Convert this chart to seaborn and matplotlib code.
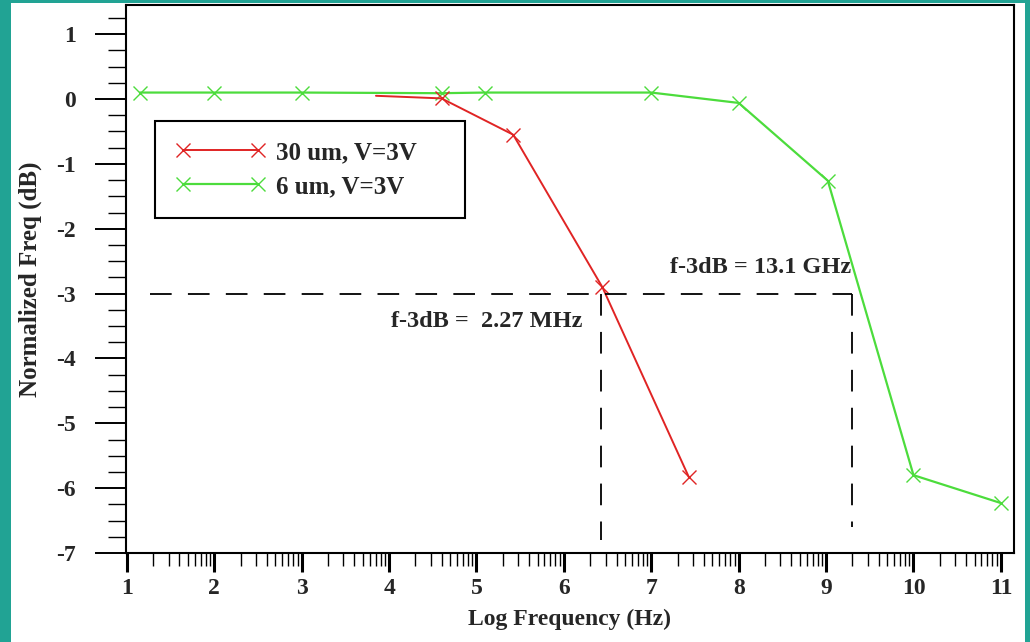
"""
Frequency response of the 30 um and 6 um devices at V=3V, with the -3 dB points marked.
"""

import matplotlib.pyplot as plt
import numpy as np
import pandas as pd
import seaborn as sns
from matplotlib.lines import Line2D
from matplotlib.patches import Rectangle
from matplotlib.ticker import FixedLocator, MultipleLocator

# data
log_freq_30um = [3.85, 4.6, 5.42, 6.44, 7.43]
resp_30um = [0.05, 0.01, -0.55, -2.9, -5.83]

log_freq_6um = [1.15, 2.0, 3.0, 4.6, 5.1, 7.0, 8.0, 9.02, 10.0, 11.0]
resp_6um = [0.1, 0.1, 0.1, 0.09, 0.1, 0.1, -0.06, -1.26, -5.8, -6.23]

labels = ["30 um, V=3V", "6 um, V=3V"]
f3db_level = -3
f3db_30um_x = 6.43
f3db_6um_x = 9.3
f3db_30um_text = "f-3dB =  2.27 MHz"
f3db_6um_text = "f-3dB = 13.1 GHz"

RED = "#e02424"
GREEN = "#4cdc3c"
TEAL = "#21a394"

df = pd.concat([
    pd.DataFrame({"x": log_freq_30um, "y": resp_30um, "series": labels[0]}),
    pd.DataFrame({"x": log_freq_6um, "y": resp_6um, "series": labels[1]}),
])

sns.set_theme(style="ticks")
plt.rcParams["font.family"] = ["Liberation Serif", "DejaVu Serif"]
plt.rcParams["font.weight"] = "bold"
plt.rcParams["axes.unicode_minus"] = False

fig = plt.figure(figsize=(10.3, 6.42), dpi=100, facecolor=TEAL)
fig.add_artist(Rectangle((11 / 1030, 0), (1025 - 11) / 1030, 639 / 642,
                         transform=fig.transFigure, facecolor="white",
                         edgecolor="none", zorder=-5))
ax = fig.add_axes([126 / 1030, 1 - 553 / 642, (1014 - 126) / 1030, (553 - 5) / 642])

mk = dict(marker="x", markersize=10, markeredgewidth=1.0)
sns.lineplot(data=df[df.series == labels[0]], x="x", y="y", color=RED,
             markeredgecolor=RED, linewidth=1.4, markevery=[1, 2, 3, 4],
             sort=False, estimator=None, ax=ax, legend=False, zorder=2, **mk)
sns.lineplot(data=df[df.series == labels[1]], x="x", y="y", color=GREEN,
             markeredgecolor=GREEN, linewidth=1.6, sort=False, estimator=None,
             ax=ax, legend=False, zorder=1, **mk)

# -3 dB guide lines
dash = dict(color="black", linewidth=1.3, linestyle=(0, (12, 9)), zorder=3)
ax.plot([1.26, f3db_6um_x], [f3db_level, f3db_level], **dash)
ax.plot([f3db_30um_x, f3db_30um_x], [f3db_level, -6.8], **dash)
ax.plot([f3db_6um_x, f3db_6um_x], [f3db_level, -6.6], **dash)

ax.text(4.02, -3.43, f3db_30um_text, fontsize=17.5, fontweight="bold",
        va="center", ha="left")
ax.text(7.21, -2.6, f3db_6um_text, fontsize=17.5, fontweight="bold",
        va="center", ha="left")

ax.set_xlim(0.99, 11.15)
ax.set_ylim(-7, 1.45)

major_x = list(range(1, 12))
minor_x = [k + np.log10(m) for k in range(1, 12) for m in range(2, 10)]
ax.xaxis.set_major_locator(FixedLocator(major_x))
ax.xaxis.set_minor_locator(FixedLocator([v for v in minor_x if v < 11.15]))
ax.yaxis.set_major_locator(FixedLocator(list(range(-7, 2))))
ax.yaxis.set_minor_locator(MultipleLocator(0.25))

ax.tick_params(axis="x", which="major", length=14, width=2.2, pad=4,
               labelsize=17, color="black")
ax.tick_params(axis="x", which="minor", length=9, width=1.0, color="black")
ax.tick_params(axis="y", which="major", length=22, width=1.4, pad=14,
               labelsize=17, color="black")
ax.tick_params(axis="y", which="minor", length=13, width=1.0, color="black")
for lbl in ax.get_xticklabels() + ax.get_yticklabels():
    lbl.set_fontweight("bold")

for side in ["left", "right", "top", "bottom"]:
    ax.spines[side].set_visible(True)
    ax.spines[side].set_color("black")
    ax.spines[side].set_linewidth(1.5)

ax.set_xlabel("Log Frequency (Hz)", fontsize=17, fontweight="bold", labelpad=7)
ax.set_ylabel("Normalized Freq (dB)", fontsize=18, fontweight="bold", labelpad=10)

handles = [
    Line2D([], [], color=RED, markeredgecolor=RED, linewidth=1.4, **mk),
    Line2D([], [], color=GREEN, markeredgecolor=GREEN, linewidth=1.6, **mk),
]
leg = ax.legend(handles, labels, loc="lower left",
                bbox_to_anchor=(0.0327, 0.611, 0.349, 0.183), mode="expand",
                borderaxespad=0, numpoints=2, handlelength=3.6,
                handletextpad=0.45, borderpad=0.8, labelspacing=0.45,
                fancybox=False, framealpha=1, edgecolor="black",
                prop={"size": 18, "weight": "bold"})
leg.get_frame().set_linewidth(1.5)

fig.savefig("out.png", dpi=100, facecolor=fig.get_facecolor())
